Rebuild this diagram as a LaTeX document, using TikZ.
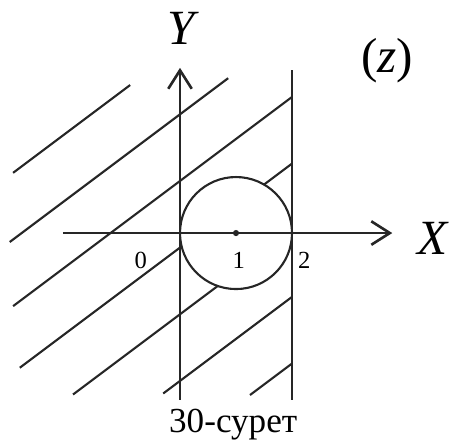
\documentclass[tikz,border=0pt]{standalone}
\usepackage{fontspec}
\setmainfont{Liberation Serif}
\usepackage{tikz}
\usetikzlibrary{arrows.meta}
\tikzset{
  axis/.style={draw=black!85, line width=1.2pt,
               -{Straight Barb[length=3.7mm, width=4.7mm, line width=1.5pt]}},
  bound/.style={draw=black!85, line width=1.2pt},
  hatch/.style={draw=black!85, line width=1.2pt},
  axislabel/.style={font=\fontsize{28}{30}\selectfont\itshape, anchor=base, inner sep=0pt},
  numlabel/.style={font=\fontsize{14}{16}\selectfont, anchor=base, inner sep=0pt},
  caption/.style={font=\fontsize{20}{22}\selectfont, anchor=base, inner sep=0pt},
}

\begin{document}
\begin{tikzpicture}[x=1.12cm, y=1.12cm]
  \useasboundingbox (-3.214,-3.75) rectangle (4.821,4.161);

  % Points
  \coordinate (O) at (0,0);
  \coordinate (C) at (1,0);
  \coordinate (xstart) at (-2.09,0);
  \coordinate (xend) at (3.79,0);
  \coordinate (ystart) at (0,-2.98);
  \coordinate (yend) at (0,2.95);
  \coordinate (rbot) at (2,-2.98);
  \coordinate (rtop) at (2,2.91);

  % Hatching
  \begin{scope}[even odd rule]
    \clip (-4,-4) rectangle (5,5) (C) circle (1);
    \foreach \b/\xa/\xb in {3.31/-2.98/-0.89, 2.12/-3.04/0.86,
                            0.93/-2.98/2, -0.26/-2.86/2,
                            -1.45/-1.91/1.99, -2.64/-0.30/2,
                            -3.83/1.25/2}
      \draw[hatch] (\xa,{0.75*\xa+\b}) -- (\xb,{0.75*\xb+\b});
  \end{scope}

  % Circle and boundary
  \draw[bound] (C) circle (1);
  \fill[black!85] (C) circle (0.055);
  \draw[bound] (rbot) -- (rtop);

  % Axes
  \draw[axis] (xstart) -- (xend);
  \draw[axis] (ystart) -- (yend);

  % Labels
  \node[axislabel] (ylab) at (0.02,3.36) {Y};
  \node[axislabel] (xlab) at (4.5,-0.39) {X};
  \node[axislabel, font=\fontsize{28}{30}\selectfont] (zlab) at (3.70,2.875) {(\textit{z})};
  \node[numlabel] (n0) at (-0.70,-0.625) {0};
  \node[numlabel] (n1) at (1.05,-0.625) {1};
  \node[numlabel] (n2) at (2.22,-0.625) {2};
  \node[caption] (cap) at (0.95,-3.57) {30-сурет};

\end{tikzpicture}
\end{document}
